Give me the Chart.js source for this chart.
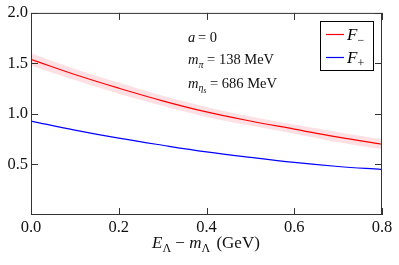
<!DOCTYPE html>
<html><head><meta charset="utf-8">
<script src="https://cdn.jsdelivr.net/npm/chart.js@4/dist/chart.umd.min.js"></script>
<style>html,body{margin:0;padding:0;background:#fff}#wrap{width:399px;height:265px}</style>
</head><body><div id="wrap"><canvas id="c" width="399" height="265"></canvas></div>
<script>
const xValues = [0.0, 0.1, 0.2, 0.3, 0.4, 0.5, 0.6, 0.7, 0.8];
const fMinus = [1.54, 1.39, 1.255, 1.13, 1.02, 0.93, 0.85, 0.77, 0.70];
const fMinusUpper = [1.60, 1.445, 1.31, 1.18, 1.07, 0.975, 0.895, 0.82, 0.75];
const fMinusLower = [1.48, 1.335, 1.20, 1.08, 0.97, 0.885, 0.805, 0.72, 0.65];
const fPlus = [0.93, 0.84, 0.76, 0.69, 0.625, 0.57, 0.52, 0.48, 0.45];
const xTicks = [0.0, 0.2, 0.4, 0.6, 0.8];
const yTicks = [0.5, 1.0, 1.5, 2.0];

const pts = a => xValues.map((x, i) => ({x: x, y: a[i]}));
const SERIF = '"Liberation Serif", "DejaVu Serif", serif';

function sub(ctx, base, s, x, y, fs, italicBase, italicSub) {
  ctx.font = (italicBase ? 'italic ' : '') + fs + 'px ' + SERIF;
  ctx.fillText(base, x, y);
  let w = ctx.measureText(base).width;
  ctx.font = (italicSub ? 'italic ' : '') + Math.round(fs * 0.7) + 'px ' + SERIF;
  ctx.fillText(s, x + w, y + fs * 0.25);
  return w + ctx.measureText(s).width;
}

const deco = {
  id: 'deco',
  afterDatasetsDraw(chart) {
    const ctx = chart.ctx, a = chart.chartArea;
    const xs = chart.scales.x, ys = chart.scales.y;
    ctx.save();
    ctx.strokeStyle = '#333'; ctx.lineWidth = 1;
    ctx.strokeRect(a.left + 0.5, a.top + 0.5, a.right - a.left - 1, a.bottom - a.top - 1);
    ctx.beginPath();
    xTicks.forEach(v => { const p = Math.round(xs.getPixelForValue(v)) + 0.5;
      ctx.moveTo(p, a.bottom); ctx.lineTo(p, a.bottom - 7);
      ctx.moveTo(p, a.top); ctx.lineTo(p, a.top + 7); });
    yTicks.forEach(v => { const p = Math.round(ys.getPixelForValue(v)) + 0.5;
      ctx.moveTo(a.left, p); ctx.lineTo(a.left + 7, p);
      ctx.moveTo(a.right, p); ctx.lineTo(a.right - 7, p); });
    ctx.stroke();
    // annotations
    ctx.fillStyle = '#111'; ctx.textBaseline = 'alphabetic';
    const fs = 14.5;
    let x0 = 188;
    ctx.font = 'italic ' + fs + 'px ' + SERIF; ctx.fillText('a', x0, 42);
    ctx.font = fs + 'px ' + SERIF; ctx.fillText(' = 0', x0 + ctx.measureText('a').width, 42);
    let w = sub(ctx, 'm', 'π', x0, 64, fs, true, true);
    ctx.font = fs + 'px ' + SERIF; ctx.fillText(' = 138 MeV', x0 + w, 64);
    ctx.font = 'italic ' + fs + 'px ' + SERIF; ctx.fillText('m', x0, 88);
    let wm = ctx.measureText('m').width;
    ctx.font = 'italic 10px ' + SERIF; ctx.fillText('η', x0 + wm, 91);
    let we = ctx.measureText('η').width;
    ctx.font = 'italic 7.5px ' + SERIF; ctx.fillText('s', x0 + wm + we, 93);
    let ws = ctx.measureText('s').width;
    ctx.font = fs + 'px ' + SERIF; ctx.fillText(' = 686 MeV', x0 + wm + we + ws, 88);
    // legend
    ctx.fillStyle = '#fff'; ctx.fillRect(320, 21, 54, 49);
    ctx.lineWidth = 1;
    ctx.strokeStyle = '#000'; ctx.strokeRect(320.5, 21.5, 53, 49);
    ctx.lineWidth = 1.2;
    ctx.strokeStyle = '#ff0000'; ctx.beginPath(); ctx.moveTo(326, 34.5); ctx.lineTo(344, 34.5); ctx.stroke();
    ctx.strokeStyle = '#0000ff'; ctx.beginPath(); ctx.moveTo(326, 57.5); ctx.lineTo(344, 57.5); ctx.stroke();
    ctx.fillStyle = '#000';
    sub(ctx, 'F', '−', 347, 40, 17, true, false);
    sub(ctx, 'F', '+', 347, 63, 17, true, false);
    // x title
    ctx.fillStyle = '#111';
    let tx = 152, ty = 248, tf = 17;
    let w1 = sub(ctx, 'E', 'Λ', tx, ty, tf, true, false);
    ctx.font = tf + 'px ' + SERIF; ctx.fillText(' − ', tx + w1, ty);
    let w2 = ctx.measureText(' − ').width;
    let w3 = sub(ctx, 'm', 'Λ', tx + w1 + w2, ty, tf, true, false);
    ctx.font = tf + 'px ' + SERIF; ctx.fillText(' (GeV)', tx + w1 + w2 + w3 + 2, ty);
    ctx.restore();
  }
};

new Chart(document.getElementById('c'), {
  type: 'line',
  data: {
    datasets: [
      {order: 10, data: pts(fMinusUpper), borderWidth: 0, pointRadius: 0, tension: 0.4, fill: '+1', backgroundColor: '#fde0e4', borderColor: 'rgba(0,0,0,0)'},
      {order: 11, data: pts(fMinusLower), borderWidth: 0, pointRadius: 0, tension: 0.4, fill: false, borderColor: 'rgba(0,0,0,0)'},
      {order: 1, label: 'F−', data: pts(fMinus), borderColor: '#ff0000', borderWidth: 1.2, pointRadius: 0, tension: 0.4, fill: false},
      {order: 2, label: 'F+', data: pts(fPlus), borderColor: '#0000ff', borderWidth: 1.2, pointRadius: 0, tension: 0.4, fill: false}
    ]
  },
  options: {
    responsive: false, animation: false, devicePixelRatio: 1,
    layout: {padding: {top: 12, right: 17, left: 0, bottom: 0}},
    plugins: {legend: {display: false}, tooltip: {enabled: false}},
    scales: {
      x: {type: 'linear', min: 0, max: 0.8,
        afterBuildTicks: s => { s.ticks = xTicks.map(v => ({value: v})); },
        afterFit: s => { s.height = 50; },
        grid: {display: false, drawTicks: false}, border: {display: false},
        ticks: {padding: 3, color: '#111', font: {family: SERIF, size: 16.5}, callback: v => v.toFixed(1), maxRotation: 0}},
      y: {min: 0, max: 2,
        afterBuildTicks: s => { s.ticks = yTicks.map(v => ({value: v})); },
        afterFit: s => { s.width = 31; },
        grid: {display: false, drawTicks: false}, border: {display: false},
        ticks: {padding: 3, color: '#111', font: {family: SERIF, size: 16.5}, callback: v => v.toFixed(1)}}
    }
  },
  plugins: [deco]
});
</script></body></html>
